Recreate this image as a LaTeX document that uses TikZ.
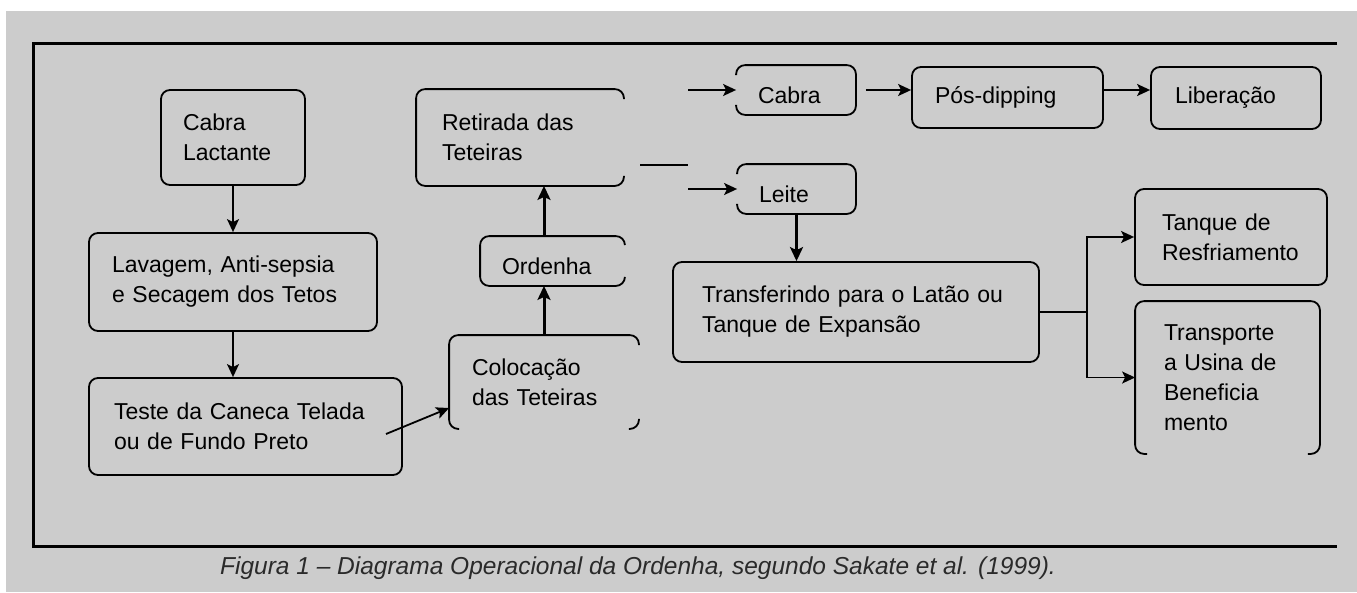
\documentclass[tikz,border=0pt]{standalone}
\usepackage{fontspec}
\setmainfont{Liberation Sans}
\usetikzlibrary{arrows.meta,calc}
\definecolor{panel}{HTML}{CCCCCC}
\definecolor{captext}{HTML}{2A2A2A}
\begin{document}
\begin{tikzpicture}[x=1pt,y=-1pt,
  box/.style={draw, line width=1.8pt, rounded corners=9pt, align=left,
    inner ysep=0pt, font=\fontsize{23}{30}\selectfont, text=black},
  openbox/.style={box, draw=none},
  lowtext/.style={text height=26pt, text depth=0pt},
  edge/.style={line width=1.8pt, rounded corners=9pt},
  plain/.style={line width=1.8pt},
  link/.style={line width=1.8pt, -{Stealth[length=13pt,width=12pt,inset=3pt]}},
  boldlink/.style={line width=3pt, -{Stealth[length=14pt,width=13pt,inset=3pt]}},
]
\useasboundingbox (0,0) rectangle (1357,592);
\fill[panel] (6,11) rectangle (1357,592);

% outer frame (open on the right)
\draw[line width=3pt] (1337,43) -- (33,43) -- (33,546) -- (1337,546);

% process boxes
\node[box, text width=100pt, inner xsep=22pt, minimum height=95pt] (lact) at (233,137.5) {Cabra\\Lactante};
\node[box, text width=242pt, inner xsep=23pt, minimum height=98pt] (lav) at (233,282) {Lavagem, Anti-sepsia\\e Secagem dos Tetos};
\node[box, text width=263pt, inner xsep=25pt, minimum height=97pt] (teste) at (245.5,426.5) {Teste da Caneca Telada\\ou de Fundo Preto};
\node[openbox, text width=144pt, inner xsep=22pt, minimum height=92pt] (coloc) at (544,382) {Colocação\\das Teteiras};
\node[openbox, lowtext, text width=101pt, inner xsep=21pt, minimum height=48pt] (ord) at (552.5,261) {Ordenha};
\node[openbox, text width=156pt, inner xsep=25pt, minimum height=95pt] (ret) at (520,137.5) {Retirada das\\Teteiras};
\node[openbox, lowtext, text width=76pt, inner xsep=21pt, minimum height=48pt] (cabra) at (796,90) {Cabra};
\node[box, text width=145pt, inner xsep=23pt, minimum height=61pt] (pos) at (1007.5,97.5) {Pós-dipping};
\node[box, text width=122pt, inner xsep=24pt, minimum height=62pt] (lib) at (1236,98) {Liberação};
\node[openbox, lowtext, text width=75pt, inner xsep=21pt, minimum height=48pt] (leite) at (796.5,189) {Leite};
\node[box, text width=308pt, inner xsep=29pt, minimum height=100pt] (transf) at (856,312) {Transferindo para o Latão ou\\Tanque de Expansão};
\node[box, text width=138pt, inner xsep=27pt, minimum height=96pt] (tanque) at (1231,237) {Tanque de\\Resfriamento};
\node[openbox, text width=127pt, inner xsep=28pt, minimum height=151pt] (transp) at (1227.5,377.5) {Transporte\\a Usina de\\Beneficia\\mento};

% borders that are only partly drawn
\draw[edge] ($(ret.north east)+(0,10)$) -- (ret.north east) -- (ret.north west) -- (ret.south west) -- (ret.south east) -- ($(ret.south east)+(0,-10)$);
\draw[edge] ($(ord.north east)+(0,9)$) -- (ord.north east) -- (ord.north west) -- (ord.south west) -- (ord.south east) -- ($(ord.south east)+(0,-9)$);
\draw[edge] ($(coloc.north east)+(0,10)$) -- (coloc.north east) -- (coloc.north west) -- (coloc.south west) -- ($(coloc.south west)+(10,0)$);
\draw[edge] ($(coloc.south east)+(0,-10)$) -- (coloc.south east) -- ($(coloc.south east)+(-10,0)$);
\draw[edge] ($(cabra.north west)+(0,10)$) -- (cabra.north west) -- (cabra.north east) -- (cabra.south east) -- (cabra.south west) -- ($(cabra.south west)+(0,-10)$);
\draw[edge] ($(leite.north west)+(0,10)$) -- (leite.north west) -- (leite.north east) -- (leite.south east) -- (leite.south west) -- ($(leite.south west)+(0,-10)$);
\draw[edge] ($(transp.south west)+(12,0)$) -- (transp.south west) -- (transp.north west) -- (transp.north east) -- (transp.south east) -- ($(transp.south east)+(-12,0)$);

% connectors
\draw[link] (lact.south) -- (lact.south |- lav.north);
\draw[link] (lav.south) -- (lav.south |- teste.north);
\coordinate (tout) at (386,434);
\coordinate (cin) at ($(coloc.west)+(0,26)$);
\draw[link] (tout) -- (cin);
\draw[boldlink] (coloc.north) -- (coloc.north |- ord.south);
\draw[boldlink] (coloc.north |- ord.north) -- (coloc.north |- ret.south);
\coordinate (stubA) at (640,165);
\coordinate (stubB) at (688,165);
\draw[plain] (stubA) -- (stubB);
\draw[link] (stubB |- cabra.west) -- (cabra.west);
\draw[link] (stubB |- leite.west) -- (leite.west);
\draw[link] ($(cabra.east)+(10,0)$) -- (cabra.east -| pos.west);
\draw[link] (cabra.east -| pos.east) -- (cabra.east -| lib.west);
\draw[boldlink] (leite.south) -- (leite.south |- transf.north);
\coordinate (fork) at (1087,312);
\draw[plain] (transf.east) -- (fork);
\draw[link] (fork) |- (tanque.west);
\draw[link] (fork) |- (transp.west);

% caption
\node[font=\fontsize{24.5}{28}\selectfont\itshape, text=captext] (cap) at (638,568) {Figura 1 – Diagrama Operacional da Ordenha, segundo Sakate et al. (1999).};
\end{tikzpicture}
\end{document}
